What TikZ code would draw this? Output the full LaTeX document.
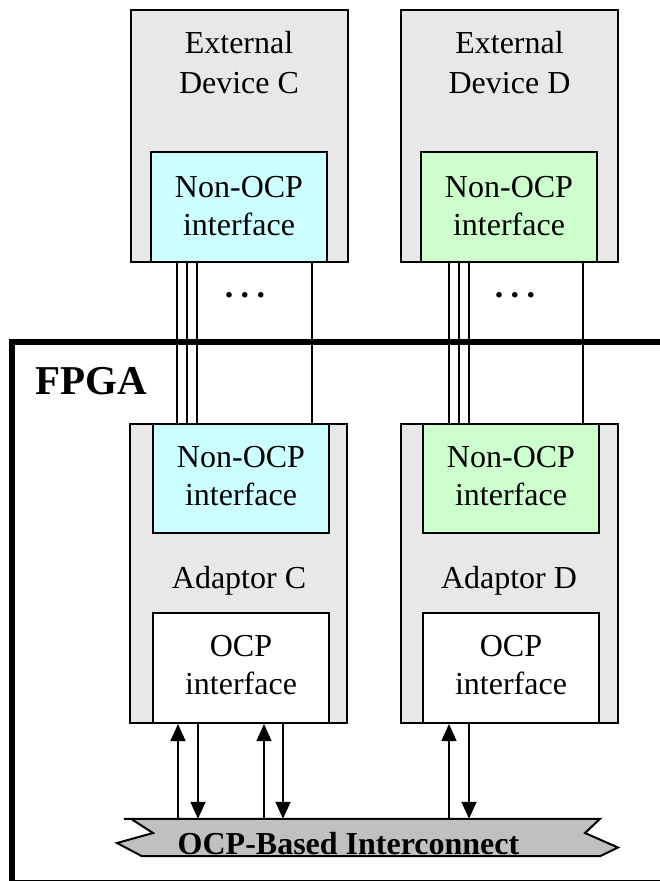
\documentclass[tikz,border=0pt]{standalone}
\usepackage{fontspec}
\setmainfont{Liberation Serif}
\usetikzlibrary{arrows.meta}
\definecolor{boxgray}{HTML}{E8E8E8}
\definecolor{ifcyan}{HTML}{CCFFFF}
\definecolor{ifgreen}{HTML}{CCFFCC}
\definecolor{busgray}{HTML}{C0C0C0}
\begin{document}
\begin{tikzpicture}[x=1pt,y=-1pt,
  txt/.style={font=\fontsize{32}{38}\selectfont, align=center, inner sep=0pt},
  box/.style={draw, line width=2pt, inner sep=0pt, rectangle},
  outerbox/.style={box, fill=boxgray, minimum width=217pt},
  ifbox/.style={box, minimum width=176pt, minimum height=110pt},
  wire/.style={line width=1.5pt},
  arr/.style={line width=1.5pt, -{Triangle[width=15pt,length=17pt]}},
]
\useasboundingbox (0,0) rectangle (659,881);
% FPGA frame
\draw[line width=6pt] (12,342) rectangle (668,883);
\node[font=\fontsize{41}{45}\selectfont\bfseries, inner sep=0pt, anchor=base] (fpga) at (91,394) {FPGA};

% External devices
\node[outerbox, minimum height=252pt] (extC) at (239,136) {};
\node[outerbox, minimum height=252pt] (extD) at (509.5,136) {};
\node[txt, anchor=north, font=\fontsize{32}{40}\selectfont] (extCt) at (239,31) {External\\Device C};
\node[txt, anchor=north, font=\fontsize{32}{40}\selectfont] (extDt) at (509.5,31) {External\\Device D};
\node[ifbox, fill=ifcyan] (nC) at (239,207) {};
\node[ifbox, fill=ifgreen] (nD) at (509,207) {};
\node[txt, anchor=north] (nCt) at (239,176) {Non-OCP\\interface};
\node[txt, anchor=north] (nDt) at (509,176) {Non-OCP\\interface};

% Adaptors
\node[outerbox, minimum height=299pt] (adC) at (238.5,573.5) {};
\node[outerbox, minimum height=299pt] (adD) at (509.5,573.5) {};
\node[txt, anchor=base] (adCt) at (239,588) {Adaptor C};
\node[txt, anchor=base] (adDt) at (509,588) {Adaptor D};
\node[ifbox, fill=ifcyan, minimum height=109pt] (anC) at (241,478.5) {};
\node[ifbox, fill=ifgreen, minimum height=109pt] (anD) at (511,478.5) {};
\node[txt, anchor=north] (anCt) at (241,446) {Non-OCP\\interface};
\node[txt, anchor=north] (anDt) at (511,446) {Non-OCP\\interface};
\node[ifbox, fill=white] (oC) at (241,668) {};
\node[ifbox, fill=white] (oD) at (511,668) {};
\node[txt, anchor=north] (oCt) at (241,635) {OCP\\interface};
\node[txt, anchor=north] (oDt) at (511,635) {OCP\\interface};

% Wires between devices and adaptors
\foreach \xx in {177,187,197,312} \draw[wire] (extC.south -| \xx,0) -- (adC.north -| \xx,0);
\foreach \xx in {449,459,469,583} \draw[wire] (extD.south -| \xx,0) -- (adD.north -| \xx,0);
\node[txt, anchor=base, font=\fontsize{34}{38}\selectfont\bfseries] (dotsC) at (245,297) {.\kern7.5pt.\kern7.5pt.};
\node[txt, anchor=base, font=\fontsize{34}{38}\selectfont\bfseries] (dotsD) at (515,297) {.\kern7.5pt.\kern7.5pt.};

% Interconnect
\node[inner sep=0pt, minimum width=487pt, minimum height=37pt] (bus) at (367.5,837.5) {};
\draw[line width=2pt, fill=busgray, line join=miter]
  (bus.north west) -- (bus.north -| 600,0) -- (585,833) -- (618,847.5) -- (bus.south -| 600,0)
  -- (bus.south -| 142,0) -- (117,843) -- (153,833) -- (bus.north -| 131,0) -- cycle;
\node[font=\fontsize{32}{38}\selectfont\bfseries, inner sep=0pt, anchor=base] (busT) at (348.5,854) {OCP-Based Interconnect};

% Arrows
\draw[arr] (bus.north -| 178,0) -- (oC.south -| 178,0);
\draw[arr] (oC.south -| 198,0) -- (bus.north -| 198,0);
\draw[arr] (bus.north -| 264,0) -- (oC.south -| 264,0);
\draw[arr] (oC.south -| 283,0) -- (bus.north -| 283,0);
\draw[arr] (bus.north -| 449,0) -- (oD.south -| 449,0);
\draw[arr] (oD.south -| 469,0) -- (bus.north -| 469,0);
\end{tikzpicture}
\end{document}
